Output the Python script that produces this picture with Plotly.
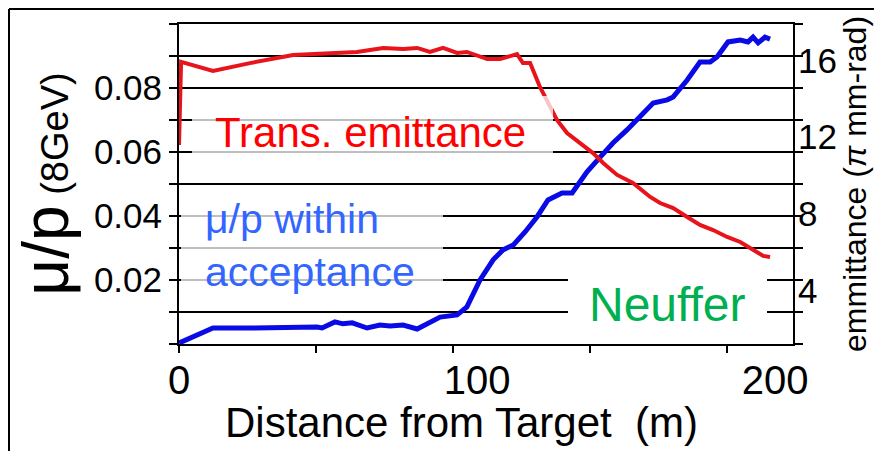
import plotly.graph_objects as go

# ---- data ----
dist_mup = [0.0, 11.4, 23.8, 34.9, 46.3, 48.0, 52.3, 55.0, 58.1, 63.1, 67.4, 70.8, 75.2, 79.9, 84.2,
            87.6, 93.3, 96.6, 101.0, 105.4, 108.7, 112.1, 116.1, 120.1, 123.8, 128.5, 131.9, 136.9,
            141.3, 145.6, 150.3, 154.7, 159.1, 163.8, 165.8, 170.5, 174.8, 178.2, 180.5, 184.2, 188.3,
            190.9, 192.6, 194.3, 196.6, 198.3]
mu_per_p = [0.0003, 0.0050, 0.0050, 0.0053, 0.0053, 0.0050, 0.0069, 0.0063, 0.0066, 0.0050, 0.0059,
            0.0056, 0.0059, 0.0047, 0.0066, 0.0084, 0.0091, 0.0116, 0.0200, 0.0263, 0.0294, 0.0309,
            0.0350, 0.0397, 0.0450, 0.0472, 0.0472, 0.0538, 0.0584, 0.0628, 0.0669, 0.0709, 0.0753,
            0.0763, 0.0772, 0.0825, 0.0881, 0.0881, 0.0897, 0.0944, 0.0950, 0.0944, 0.0959, 0.0941,
            0.0959, 0.0953]

dist_emit = [0.0, 0.7, 11.4, 23.8, 38.3, 51.7, 59.7, 68.5, 75.2, 79.9, 84.2, 88.6, 93.3, 96.6, 103.4,
             107.7, 113.4, 115.4, 117.8, 121.1, 124.5, 126.8, 130.2, 134.6, 138.9, 142.3, 147.0, 152.3,
             158.1, 161.4, 165.8, 170.5, 174.8, 179.2, 183.9, 188.3, 192.6, 196.0, 198.3]
emittance = [11.59, 15.93, 15.46, 15.87, 16.29, 16.40, 16.45, 16.66, 16.61, 16.66, 16.45, 16.66, 16.40,
             16.45, 16.08, 16.08, 16.34, 15.87, 15.87, 14.62, 13.58, 12.90, 12.22, 11.70, 11.17, 10.65,
             10.03, 9.61, 8.88, 8.56, 8.30, 7.83, 7.42, 7.15, 6.79, 6.53, 6.11, 5.80, 5.74]

x_tickvals = [0, 100, 200]
x_ticktext = ["0", "100", "200"]
y_tickvals = [0.0, 0.01, 0.02, 0.03, 0.04, 0.05, 0.06, 0.07, 0.08, 0.09, 0.10]
y_ticktext = ["", "", "0.02", "", "0.04", "", "0.06", "", "0.08", "", ""]
y2_tickvals = [4, 8, 12, 16]
y2_ticktext = ["4", "8", "12", "16"]

x_title = "Distance from Target\u00a0 (m)"

FONT = "Liberation Sans, Arial, sans-serif"
# the page body adds an 8px offset; figure sized so it fills the 882x451 window
OFF = 8
W, H = 882 - OFF, 451 - OFF
L, R, T, B = 179 - OFF, 89, 24 - OFF, 107
PW, PH = W - L - R, H - T - B


def px(xs):
    # screen pixel x -> paper fraction
    return (xs - OFF - L) / PW


def py(ys):
    # screen pixel y -> paper fraction
    return (H - B - (ys - OFF)) / PH


fig = go.Figure()
fig.add_trace(go.Scatter(x=dist_mup, y=mu_per_p, mode="lines",
                         line=dict(color="#0a0ae6", width=5), name="μ/p", yaxis="y"))
fig.add_trace(go.Scatter(x=dist_emit, y=emittance, mode="lines",
                         line=dict(color="#e8141c", width=4), name="emittance", yaxis="y2"))

fig.update_layout(
    width=W, height=H,
    margin=dict(l=L, r=R, t=T, b=B, pad=0, autoexpand=False),
    paper_bgcolor="white", plot_bgcolor="white",
    showlegend=False,
    font=dict(family=FONT, color="black"),
    xaxis=dict(
        range=[0, 206.0], showgrid=False, zeroline=False, automargin=False,
        showline=True, linecolor="black", linewidth=2, mirror=True,
        tickmode="array", tickvals=x_tickvals, ticktext=x_ticktext, ticks="",
        tickfont=dict(size=40, family=FONT, color="black"),
        ticklabelstandoff=0,
        minor=dict(ticks="outside", tick0=0, dtick=46, ticklen=7, tickwidth=1.5, tickcolor="black",
                   showgrid=False),
    ),
    yaxis=dict(
        range=[0, 0.1], showgrid=True, gridcolor="black", gridwidth=2, zeroline=False, automargin=False,
        showline=True, linecolor="black", linewidth=2, mirror="ticks",
        tickmode="array", tickvals=y_tickvals, ticktext=y_ticktext,
        ticks="outside", ticklen=8, tickwidth=2, tickcolor="black",
        tickfont=dict(size=35, family=FONT, color="black"),
        ticklabelstandoff=0,
        title=dict(text="<span style='font-size:64px'>μ/p</span> (8GeV)",
                   font=dict(size=38, family=FONT, color="black"), standoff=14),
    ),
    yaxis2=dict(
        overlaying="y", side="right", range=[1.201, 17.911], automargin=False,
        showgrid=False, zeroline=False, showline=False,
        tickmode="array", tickvals=y2_tickvals, ticktext=y2_ticktext, ticks="",
        tickfont=dict(size=35, family=FONT, color="black"),
        ticklabelstandoff=4,
        title=dict(text="emmittance (<i>π</i> mm-rad)", font=dict(size=32, family=FONT, color="black"),
                   standoff=2),
    ),
)

# frame lines (top and left) at the page edge of the figure
fig.add_shape(type="line", xref="paper", yref="paper", x0=px(9), x1=px(882), y0=py(9), y1=py(9),
              line=dict(color="black", width=2))
fig.add_shape(type="line", xref="paper", yref="paper", x0=px(9), x1=px(9), y0=py(9), y1=py(451),
              line=dict(color="black", width=2))

# text box backgrounds
fig.add_shape(type="rect", xref="paper", yref="paper", layer="above",
              x0=px(192), x1=px(553), y0=py(170), y1=py(96),
              fillcolor="rgba(255,255,255,0.75)", line=dict(width=0))
fig.add_shape(type="rect", xref="paper", yref="paper", layer="above",
              x0=px(181), x1=px(443), y0=py(302), y1=py(190),
              fillcolor="rgba(255,255,255,0.75)", line=dict(width=0))
fig.add_shape(type="rect", xref="paper", yref="paper", layer="above",
              x0=px(568), x1=px(767), y0=py(340), y1=py(262),
              fillcolor="white", line=dict(width=0))

# x-axis title (placed slightly left of the plot centre, as in the original)
fig.add_annotation(text=x_title, xref="paper", yref="paper", x=px(461), y=py(422.5),
                   xanchor="center", yanchor="middle", showarrow=False,
                   font=dict(size=42, family=FONT, color="black"))

fig.add_annotation(text="Trans. emittance", xref="paper", yref="paper", x=px(370.5), y=py(133),
                   xanchor="center", yanchor="middle", showarrow=False,
                   font=dict(size=42, family=FONT, color="#ff0000"))
fig.add_annotation(text="μ/p within<br>acceptance", xref="paper", yref="paper", x=px(203), y=py(245),
                   xanchor="left", yanchor="middle", align="left", showarrow=False,
                   font=dict(size=41, family=FONT, color="#3366ff"))
fig.add_annotation(text="Neuffer", xref="paper", yref="paper", x=px(667.5), y=py(304),
                   xanchor="center", yanchor="middle", showarrow=False,
                   font=dict(size=48, family=FONT, color="#00b050"))

fig.write_html("out.html")
